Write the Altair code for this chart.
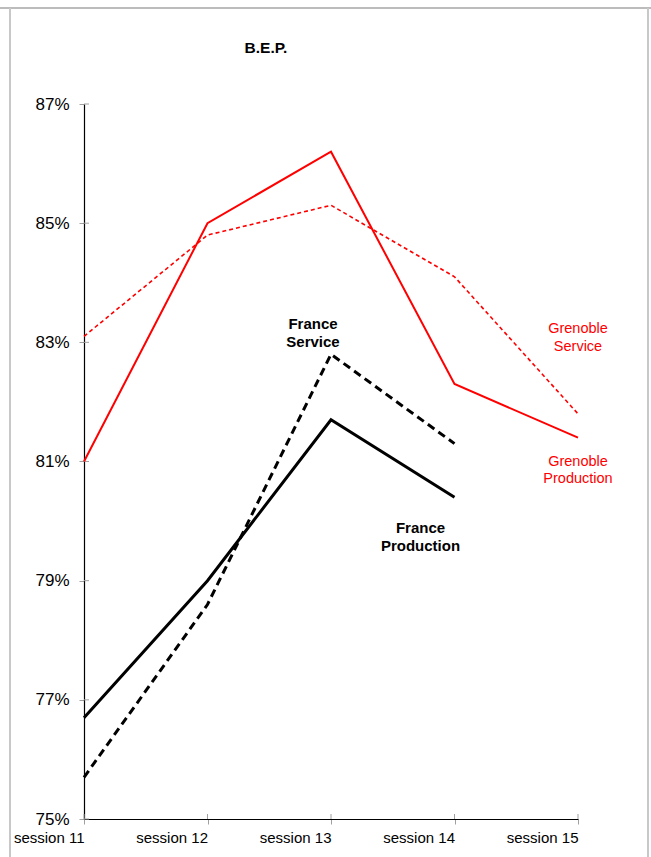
import altair as alt
import pandas as pd

sessions = ["session 11", "session 12", "session 13", "session 14", "session 15"]
grenoble_production = [81.0, 85.0, 86.2, 82.3, 81.4]
grenoble_service = [83.1, 84.8, 85.3, 84.1, 81.8]
france_production = [76.7, 79.0, 81.7, 80.4]
france_service = [75.7, 78.6, 82.8, 81.3]
y_ticks = [75, 77, 79, 81, 83, 85, 87]

label_text = ["France\nService", "France\nProduction", "Grenoble\nService", "Grenoble\nProduction"]
label_session = ["session 13", "session 14", "session 15", "session 15"]
label_value = [83.3, 79.88, 83.22, 81.0]

FONT = "Liberation Sans"
W, H = 494, 715


def series_df(name, values):
    return pd.DataFrame({"session": sessions[:len(values)],
                         "value": [v / 100 for v in values],
                         "series": name})


df = pd.concat([
    series_df("Grenoble Production", grenoble_production),
    series_df("Grenoble Service", grenoble_service),
    series_df("France Production", france_production),
    series_df("France Service", france_service),
])

labels = pd.DataFrame({"text": label_text, "session": label_session,
                       "value": [v / 100 for v in label_value]})
ticks_df = pd.DataFrame({"value": [t / 100 for t in y_ticks]})
sess_df = pd.DataFrame({"session": sessions})
title_df = pd.DataFrame({"text": ["B.E.P."]})

x_scale = alt.Scale(type="point", domain=sessions, padding=0)
y_scale = alt.Scale(domain=[0.75, 0.87], zero=False, nice=False)

x_enc = alt.X("session:N", sort=sessions, scale=x_scale,
              axis=alt.Axis(title=None, labelAngle=0, labelFont=FONT, labelFontSize=15,
                            labelColor="black", domainColor="black", domainWidth=1.2,
                            tickColor="#a0a0a0", tickSize=5, labelPadding=13, grid=False))
y_enc = alt.Y("value:Q", scale=y_scale,
              axis=alt.Axis(title=None, format=".0%", values=[t / 100 for t in y_ticks],
                            labelFont=FONT, labelFontSize=17, labelColor="black",
                            domainColor="black", domainWidth=1.2,
                            tickColor="#a0a0a0", tickSize=5, labelPadding=10, grid=False))


def line(name, color, width, dash=None):
    kw = dict(color=color, strokeWidth=width, clip=False)
    if dash:
        kw["strokeDash"] = dash
    return alt.Chart(df).transform_filter(alt.datum.series == name).mark_line(**kw).encode(
        x=x_enc, y=y_enc)


base_lines = [
    line("Grenoble Service", "#ff0000", 1.6, [4, 3]),
    line("Grenoble Production", "#ff0000", 2),
    line("France Service", "black", 3, [8, 5]),
    line("France Production", "black", 3),
]

# inward halves of the crossing tick marks
y_inner = alt.Chart(ticks_df).mark_rule(color="#a0a0a0", strokeWidth=1).encode(
    y=alt.Y("value:Q", scale=y_scale), x=alt.value(0), x2=alt.value(5))
x_inner = alt.Chart(sess_df).mark_rule(color="#a0a0a0", strokeWidth=1).encode(
    x=alt.X("session:N", sort=sessions, scale=x_scale),
    y=alt.value(H - 5), y2=alt.value(H))


def label(i, color, weight, size, dx):
    d = labels.iloc[[i]]
    return alt.Chart(d).mark_text(font=FONT, fontSize=size, fontWeight=weight, color=color,
                                  lineBreak="\n", lineHeight=17.5, align="center",
                                  baseline="middle", dx=dx).encode(
        x=alt.X("session:N", sort=sessions, scale=x_scale),
        y=alt.Y("value:Q", scale=y_scale),
        text="text:N")


label_layers = [
    label(0, "black", "bold", 15, -18),
    label(1, "black", "bold", 15, -34),
    label(2, "#ff0000", "normal", 14.5, 0),
    label(3, "#ff0000", "normal", 14.5, 0),
]

title = alt.Chart(title_df).mark_text(font=FONT, fontSize=15.5, fontWeight="bold",
                                      color="black", align="center",
                                      baseline="alphabetic").encode(
    x=alt.value(182), y=alt.value(-51), text="text:N")

# outer frame of the picture
frame = [
    alt.Chart(title_df).mark_rule(color="#a6a6a6", strokeWidth=1.5).encode(
        x=alt.value(-84), x2=alt.value(567), y=alt.value(-96)),
    alt.Chart(title_df).mark_rule(color="#c8c8c8", strokeWidth=2).encode(
        x=alt.value(-74), y=alt.value(-96), y2=alt.value(753)),
    alt.Chart(title_df).mark_rule(color="#c8c8c8", strokeWidth=2).encode(
        x=alt.value(564), y=alt.value(-96), y2=alt.value(753)),
]

chart = alt.layer(*frame, title, y_inner, x_inner, *base_lines, *label_layers).properties(
    width=W, height=H,
    autosize=alt.AutoSizeParams(type="none"),
    padding={"left": 84, "top": 104, "right": 73, "bottom": 38},
).configure(background="white").configure_view(strokeWidth=0, stroke="transparent")

chart.save("out.html", embed_options={"renderer": "svg", "actions": False})
